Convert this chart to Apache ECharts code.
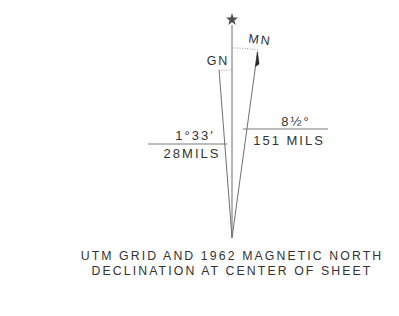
<!DOCTYPE html>
<html>
<head>
<meta charset="utf-8">
<script src="https://cdn.jsdelivr.net/npm/echarts@6/dist/echarts.min.js"></script>
<style>
  html, body { margin: 0; padding: 0; background: #fff; }
  #chart { width: 399px; height: 316px; }
  #chart svg text { letter-spacing: 2px; }
  #chart svg text.cap { letter-spacing: 2.1px; }
</style>
</head>
<body>
<div id="chart"></div>
<script>
// ---- data ----
const northLabels = ['GN', 'MN'];
const angleTexts = ['1°33′', '8½°'];
const milTexts = ['28MILS', '151 MILS'];
const drawnAngles = [-4.4, 7.8];      // degrees from true north, as drawn (not to scale)
const rayLengths = [169, 188];
const trueNorthLength = 213;
const starRadius = 219;
const captionLines = ['UTM GRID AND 1962 MAGNETIC NORTH', 'DECLINATION AT CENTER OF SHEET'];

// ---- layout (not data) ----
const layout = [
  { arcR: 168, label: [-14, 177], rot: 0, rule: [-84, -5, 94], angPos: [-37, 103], milPos: [-40, 85], arrow: false },
  { arcR: 190, label: [28, 198], rot: -0.12, rule: [11, 96, 109], angPos: [64, 117], milPos: [57, 98], arrow: true }
];
const INK = '#333333';
const LINE = '#6f6f6f';
const FONT = 'Liberation Sans, Arial, sans-serif';

const chart = echarts.init(document.getElementById('chart'), null, { renderer: 'svg' });

function rad(d) { return d * Math.PI / 180; }

const rayData = drawnAngles.map((a, i) => [a, rayLengths[i], i]);

const option = {
  animation: false,
  backgroundColor: '#fff',
  grid: { left: 0, right: 0, top: 0, bottom: 0 },
  xAxis: { type: 'value', min: -232, max: 167, show: false },
  yAxis: { type: 'value', min: -78, max: 238, show: false },
  graphic: captionLines.map((t, i) => ({
    type: 'text', x: 232, y: 255.5 + i * 15,
    style: { text: t, align: 'center', verticalAlign: 'middle', fontSize: 12.3, fontFamily: FONT, fill: INK }
  })),
  series: [
    {
      type: 'line',
      data: [[0, 0], [0, trueNorthLength]],
      showSymbol: false,
      lineStyle: { color: LINE, width: 1 },
      silent: true
    },
    {
      type: 'scatter',
      data: [[0, starRadius]],
      symbol: 'path://M0,-10 L2.35,-3.24 L9.51,-3.09 L3.8,1.24 L5.88,8.09 L0,4 L-5.88,8.09 L-3.8,1.24 L-9.51,-3.09 L-2.35,-3.24 Z',
      symbolSize: 12,
      itemStyle: { color: '#222' },
      silent: true
    },
    {
      type: 'custom',
      data: rayData,
      silent: true,
      renderItem: function (params, api) {
        const a = rad(api.value(0));
        const L = api.value(1);
        const i = api.value(2);
        const lay = layout[i];
        const p0 = api.coord([0, 0]);
        const p1 = api.coord([L * Math.sin(a), L * Math.cos(a)]);
        const children = [];
        children.push({ type: 'line', shape: { x1: p0[0], y1: p0[1], x2: p1[0], y2: p1[1] }, style: { stroke: LINE, lineWidth: 1 } });
        // dotted arc
        const pts = [];
        const n = 12;
        for (let k = 0; k <= n; k++) {
          const t = a * k / n;
          pts.push(api.coord([lay.arcR * Math.sin(t), lay.arcR * Math.cos(t)]));
        }
        children.push({ type: 'polyline', shape: { points: pts }, style: { stroke: '#9a9a9a', lineWidth: 1, lineDash: [1, 1.5], fill: null } });
        // arrowhead (half barb, left side)
        if (lay.arrow) {
          const b = api.coord([(L - 15) * Math.sin(a), (L - 15) * Math.cos(a)]);
          const m = api.coord([(L - 12) * Math.sin(a), (L - 12) * Math.cos(a)]);
          const dx = p1[0] - b[0], dy = p1[1] - b[1];
          const len = Math.sqrt(dx * dx + dy * dy);
          const nx = dy / len, ny = -dx / len;
          const barb = [m[0] - nx * 3.2, m[1] - ny * 3.2];
          children.push({ type: 'polygon', shape: { points: [p1, b, barb] }, style: { fill: '#2a2a2a', stroke: '#2a2a2a', lineWidth: 0.5 } });
        }
        // north label
        const lp = api.coord(lay.label);
        children.push({ type: 'text', x: lp[0], y: lp[1], rotation: lay.rot,
          style: { text: northLabels[i], x: 0, y: 0, align: 'center', verticalAlign: 'middle', fontSize: 12.5, fontFamily: FONT, fill: INK } });
        // rule
        const r0 = api.coord([lay.rule[0], lay.rule[2]]);
        const r1 = api.coord([lay.rule[1], lay.rule[2]]);
        children.push({ type: 'line', shape: { x1: r0[0], y1: r0[1], x2: r1[0], y2: r1[1] }, style: { stroke: '#7a7a7a', lineWidth: 1 } });
        const ap = api.coord(lay.angPos);
        children.push({ type: 'text', style: { text: angleTexts[i], x: ap[0], y: ap[1], align: 'center', verticalAlign: 'middle', fontSize: 13, fontFamily: FONT, fill: INK } });
        const mp = api.coord(lay.milPos);
        children.push({ type: 'text', style: { text: milTexts[i], x: mp[0], y: mp[1], align: 'center', verticalAlign: 'middle', fontSize: 13, fontFamily: FONT, fill: INK } });
        return { type: 'group', children: children };
      }
    }
  ]
};
chart.setOption(option);
document.querySelectorAll('#chart svg text').forEach(function (el) {
  if (captionLines.indexOf(el.textContent) >= 0) el.classList.add('cap');
});
</script>
</body>
</html>
